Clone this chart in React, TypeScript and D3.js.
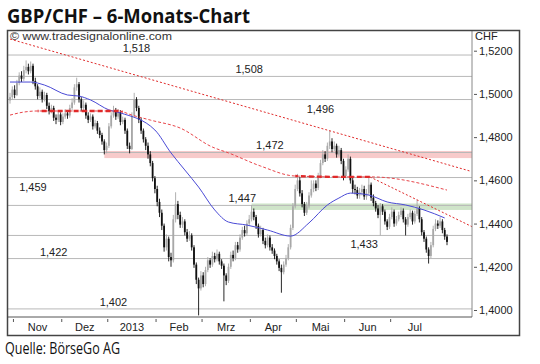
import { useEffect, useRef } from "react";
import * as d3 from "d3";

const FONT = "'Liberation Sans', Arial, sans-serif";
const PLOT = { left: 8, right: 472, top: 30, bottom: 317 };

// daily GBP/CHF closes (open = previous close)
const firstOpen = 1.497;
const closes = [
  1.4985, 1.502, 1.4995, 1.505, 1.5085, 1.507, 1.511, 1.5125, 1.5105, 1.513,
  1.506, 1.5035, 1.499, 1.501, 1.4975, 1.4995, 1.4945, 1.492, 1.4935, 1.489,
  1.488, 1.4905, 1.487, 1.4895, 1.491, 1.49, 1.4935, 1.496, 1.503, 1.5045,
  1.4975, 1.4935, 1.495, 1.49, 1.488, 1.4895, 1.485, 1.4865, 1.483, 1.481,
  1.478, 1.474, 1.476, 1.485, 1.49, 1.4925, 1.4895, 1.4915, 1.487, 1.488,
  1.483, 1.476, 1.4745, 1.49, 1.4975, 1.4935, 1.488, 1.483, 1.479, 1.476,
  1.472, 1.468, 1.461, 1.456, 1.45, 1.445, 1.439, 1.429, 1.433, 1.4245,
  1.423, 1.442, 1.449, 1.444, 1.4395, 1.441, 1.436, 1.433, 1.4345, 1.429,
  1.421, 1.414, 1.41, 1.416, 1.412, 1.4185, 1.423, 1.421, 1.425, 1.4235,
  1.426, 1.4225, 1.4205, 1.416, 1.4135, 1.42, 1.4255, 1.424, 1.43, 1.428,
  1.4335, 1.437, 1.4355, 1.44, 1.442, 1.4455, 1.443, 1.439, 1.435, 1.437,
  1.432, 1.43, 1.4335, 1.429, 1.4275, 1.425, 1.4225, 1.4195, 1.4175, 1.421,
  1.424, 1.429, 1.438, 1.448, 1.456, 1.46, 1.454, 1.449, 1.445, 1.448,
  1.453, 1.456, 1.4585, 1.4565, 1.462, 1.468, 1.472, 1.47, 1.476, 1.478,
  1.4745, 1.476, 1.472, 1.474, 1.469, 1.462, 1.465, 1.47, 1.46, 1.456,
  1.4555, 1.453, 1.4545, 1.456, 1.4525, 1.454, 1.458, 1.452, 1.4495, 1.447,
  1.444, 1.448, 1.4455, 1.441, 1.4385, 1.443, 1.4455, 1.44, 1.442, 1.444,
  1.446, 1.442, 1.4395, 1.443, 1.445, 1.441, 1.4445, 1.447, 1.442, 1.436,
  1.433, 1.428, 1.425, 1.43, 1.4375, 1.44, 1.439, 1.441, 1.437, 1.434,
  1.4315,
];
const highs = [
  1.5005, 1.5035, 1.504, 1.5065, 1.51, 1.5105, 1.513, 1.5155, 1.514, 1.515,
  1.514, 1.5075, 1.5045, 1.503, 1.502, 1.501, 1.5005, 1.496, 1.495, 1.4945,
  1.4905, 1.492, 1.4915, 1.491, 1.493, 1.4925, 1.495, 1.498, 1.5045, 1.5075,
  1.5055, 1.4985, 1.497, 1.496, 1.4915, 1.491, 1.4905, 1.488, 1.4875, 1.4845,
  1.482, 1.479, 1.4775, 1.4865, 1.4915, 1.4945, 1.4935, 1.493, 1.4925, 1.4895,
  1.489, 1.484, 1.4775, 1.4915, 1.5005, 1.4985, 1.4945, 1.489, 1.484, 1.48,
  1.4775, 1.4735, 1.469, 1.462, 1.4575, 1.4515, 1.4465, 1.44, 1.435, 1.434,
  1.4265, 1.444, 1.4545, 1.4505, 1.4455, 1.443, 1.442, 1.4375, 1.4365, 1.4355,
  1.43, 1.422, 1.415, 1.418, 1.4175, 1.42, 1.4245, 1.424, 1.427, 1.4265,
  1.428, 1.427, 1.4235, 1.4215, 1.417, 1.4215, 1.427, 1.4275, 1.4315, 1.4315,
  1.435, 1.4385, 1.439, 1.4415, 1.444, 1.4485, 1.447, 1.444, 1.44, 1.439,
  1.438, 1.4335, 1.435, 1.4345, 1.4305, 1.4285, 1.426, 1.4235, 1.421, 1.4225,
  1.4255, 1.4305, 1.4395, 1.4495, 1.458, 1.463, 1.4615, 1.4555, 1.45, 1.45,
  1.4545, 1.46, 1.46, 1.46, 1.4635, 1.4695, 1.474, 1.4735, 1.4775, 1.483,
  1.4795, 1.478, 1.477, 1.476, 1.475, 1.47, 1.4665, 1.472, 1.471, 1.4615,
  1.458, 1.457, 1.4565, 1.458, 1.4575, 1.456, 1.4615, 1.459, 1.4535, 1.4505,
  1.4485, 1.4495, 1.449, 1.4465, 1.442, 1.4445, 1.4475, 1.4465, 1.4435, 1.4455,
  1.4475, 1.447, 1.443, 1.4445, 1.4465, 1.446, 1.446, 1.451, 1.448, 1.443,
  1.437, 1.434, 1.429, 1.4315, 1.439, 1.442, 1.4415, 1.443, 1.442, 1.438,
  1.435,
];
const lows = [
  1.4955, 1.4975, 1.498, 1.499, 1.504, 1.5055, 1.506, 1.5095, 1.509, 1.5095,
  1.5045, 1.502, 1.4975, 1.498, 1.496, 1.4965, 1.493, 1.4905, 1.491, 1.4875,
  1.486, 1.487, 1.4855, 1.486, 1.4885, 1.4885, 1.489, 1.4925, 1.495, 1.5015,
  1.496, 1.492, 1.492, 1.4885, 1.4865, 1.487, 1.4835, 1.484, 1.4815, 1.4795,
  1.4765, 1.472, 1.4725, 1.475, 1.484, 1.489, 1.488, 1.4885, 1.4855, 1.486,
  1.4815, 1.4745, 1.4725, 1.474, 1.489, 1.492, 1.4865, 1.4815, 1.4775, 1.474,
  1.47, 1.4665, 1.4595, 1.454, 1.448, 1.443, 1.437, 1.427, 1.4275, 1.4225,
  1.42, 1.422, 1.4405, 1.442, 1.438, 1.438, 1.4345, 1.4315, 1.432, 1.4275,
  1.4195, 1.412, 1.3975, 1.409, 1.4105, 1.411, 1.4175, 1.4195, 1.42, 1.422,
  1.4225, 1.421, 1.419, 1.404, 1.4115, 1.4125, 1.419, 1.4225, 1.423, 1.4265,
  1.427, 1.4325, 1.434, 1.4345, 1.439, 1.441, 1.4415, 1.4375, 1.4335, 1.434,
  1.4305, 1.4285, 1.429, 1.4275, 1.426, 1.4235, 1.421, 1.418, 1.408, 1.4165,
  1.42, 1.423, 1.428, 1.437, 1.447, 1.455, 1.4525, 1.4475, 1.4435, 1.444,
  1.447, 1.452, 1.4545, 1.455, 1.4555, 1.461, 1.467, 1.4685, 1.469, 1.4745,
  1.473, 1.4735, 1.4705, 1.471, 1.4675, 1.46, 1.461, 1.464, 1.4585, 1.454,
  1.4535, 1.4515, 1.4515, 1.453, 1.451, 1.451, 1.453, 1.4505, 1.448, 1.4455,
  1.4425, 1.4345, 1.444, 1.4395, 1.437, 1.4375, 1.442, 1.4385, 1.439, 1.441,
  1.443, 1.4405, 1.4345, 1.4385, 1.442, 1.4395, 1.44, 1.4435, 1.4405, 1.4345,
  1.4315, 1.4265, 1.4215, 1.424, 1.429, 1.4365, 1.4375, 1.438, 1.4355, 1.4325,
  1.43,
];

const monthLabels = ["Nov", "Dez", "2013", "Feb", "Mrz", "Apr", "Mai", "Jun", "Jul"];
const monthStarts = [2, 23, 43, 64, 84, 105, 125, 146, 166, 187];
const yTicks = [1.4, 1.42, 1.44, 1.46, 1.48, 1.5, 1.52];

// horizontal support / resistance levels
const levelValues = [1.518, 1.5081, 1.4974, 1.4729, 1.4613, 1.4484, 1.4345, 1.4238, 1.4005];
const levelLabels = ["1,518", "1,508", "1,496", "1,472", "1,459", "1,447", "1,433", "1,422", "1,402"];
const levelLabelAt = [49, 98, 129, 107, 4, 95, 148, 13, 39];
const levelLabelBelow = [false, false, true, false, true, false, true, false, false];

const pinkZone = { from: 41, top: 1.4736, bottom: 1.4703 };
const greenZone = { from: 105, top: 1.4493, bottom: 1.4463 };

// moving averages (bar index / value)
const blueIdx = [0, 9, 15, 25, 30, 35, 43, 48, 63, 70, 76, 82, 89, 95, 103, 112, 122, 130, 138, 143, 148, 156, 164, 172, 180, 189];
const blueVal = [1.5055, 1.5055, 1.5041, 1.4995, 1.499, 1.4972, 1.4926, 1.4912, 1.4833, 1.4727, 1.4648, 1.4569, 1.4463, 1.4407, 1.4393, 1.437, 1.4342, 1.4403, 1.4486, 1.4518, 1.4541, 1.4532, 1.45, 1.4486, 1.4463, 1.4426];
const redIdx = [0, 6, 12, 47, 53, 61, 74, 88, 95, 109, 124, 144, 157, 190];
const redVal = [1.4902, 1.4916, 1.4921, 1.4921, 1.4902, 1.4879, 1.4842, 1.4754, 1.4727, 1.4666, 1.462, 1.4616, 1.4616, 1.4555];
const redBold = [[12, 49], [124, 157]];

// trend lines
const trendTop = [[0, 1.5254], [200, 1.4643]];
const trendLow = [[156.5, 1.4616], [201, 1.4385]];

export default function App() {
  const axisRef = useRef<SVGGElement>(null);
  const x = d3.scaleLinear().domain([0, closes.length - 1]).range([10, 447]);
  const y = d3.scaleLinear().domain([1.4, 1.52]).range([310, 50.7]);
  const opens = closes.map((c, i) => (i === 0 ? firstOpen : closes[i - 1]));

  useEffect(() => {
    const g = d3.select(axisRef.current);
    g.selectAll("*").remove();
    g.call(
      d3
        .axisRight(y)
        .tickValues(yTicks)
        .tickSize(3)
        .tickPadding(2)
        .tickFormat((d: any) => d3.format(".4f")(d).replace(".", ","))
    );
    g.select(".domain").remove();
    g.selectAll("text").attr("fill", "#222").style("font-size", "11px").style("font-family", FONT);
    g.selectAll("line").attr("stroke", "#555");
  }, []);

  const line = d3
    .line<number[]>()
    .x((d) => x(d[0]))
    .y((d) => y(d[1]))
    .curve(d3.curveMonotoneX);
  const straight = d3
    .line<number[]>()
    .x((d) => x(d[0]))
    .y((d) => y(d[1]));
  const redPts = redIdx.map((d, i) => [d, redVal[i]]);
  const bluePts = blueIdx.map((d, i) => [d, blueVal[i]]);
  const redPath = line(redPts) || "";

  return (
    <svg
      width={540}
      height={364}
      style={{ position: "absolute", left: 0, top: 0, background: "#fff" }}
      fontFamily={FONT}
    >
      <defs>
        <clipPath id="plot">
          <rect x={PLOT.left} y={PLOT.top} width={PLOT.right - PLOT.left} height={PLOT.bottom - PLOT.top} />
        </clipPath>
        <clipPath id="bold1">
          <rect x={x(redBold[0][0])} y={PLOT.top} width={x(redBold[0][1]) - x(redBold[0][0])} height={300} />
        </clipPath>
        <clipPath id="bold2">
          <rect x={x(redBold[1][0])} y={PLOT.top} width={x(redBold[1][1]) - x(redBold[1][0])} height={300} />
        </clipPath>
      </defs>

      <text x={7} y={23} fontSize={20} fontWeight={700} fontFamily="'Open Sans', sans-serif" fill="#111" textLength={243} lengthAdjust="spacingAndGlyphs">
        GBP/CHF – 6-Monats-Chart
      </text>

      <g clipPath="url(#plot)">
        <rect
          x={x(pinkZone.from)}
          y={y(pinkZone.top)}
          width={PLOT.right - x(pinkZone.from)}
          height={y(pinkZone.bottom) - y(pinkZone.top)}
          fill="#f7caca"
        />
        <rect
          x={x(greenZone.from)}
          y={y(greenZone.top)}
          width={PLOT.right - x(greenZone.from)}
          height={y(greenZone.bottom) - y(greenZone.top)}
          fill="#cfe4c9"
        />
        {levelValues.map((v, i) => (
          <line key={i} x1={PLOT.left} x2={PLOT.right} y1={y(v)} y2={y(v)} stroke="#b8b8b8" strokeWidth={1} />
        ))}

        {closes.map((c, i) => {
          const o = opens[i];
          const up = c >= o;
          const col = up ? "#a8a8a8" : "#111";
          const xc = x(i);
          const top = y(Math.max(o, c));
          const bot = y(Math.min(o, c));
          return (
            <g key={i}>
              <line x1={xc} x2={xc} y1={y(highs[i])} y2={y(lows[i])} stroke={col} strokeWidth={0.9} />
              <rect x={xc - 0.9} width={1.8} y={top} height={Math.max(1, bot - top)} fill={col} />
            </g>
          );
        })}

        <path d={line(bluePts) || ""} fill="none" stroke="#4a4ad6" strokeWidth={1} />
        <path d={redPath} fill="none" stroke="#e8454a" strokeWidth={1} strokeDasharray="3,2" />
        <path d={redPath} fill="none" stroke="#e02a2a" strokeWidth={2.4} strokeDasharray="5,3" clipPath="url(#bold1)" />
        <path d={redPath} fill="none" stroke="#e02a2a" strokeWidth={2.4} strokeDasharray="5,3" clipPath="url(#bold2)" />
        <path d={straight(trendTop) || ""} fill="none" stroke="#e02a2a" strokeWidth={1} strokeDasharray="2,2" />
        <path d={straight(trendLow) || ""} fill="none" stroke="#e02a2a" strokeWidth={1} strokeDasharray="2,2" />

        {levelLabels.map((t, i) => (
          <text
            key={t}
            x={x(levelLabelAt[i])}
            y={y(levelValues[i]) + (levelLabelBelow[i] ? 13 : -3)}
            fontSize={11}
            fill="#222"
          >
            {t}
          </text>
        ))}
      </g>

      <text x={10} y={40} fontSize={11} fill="#333" textLength={162} lengthAdjust="spacingAndGlyphs">
        © www.tradesignalonline.com
      </text>

      <line x1={PLOT.right} x2={PLOT.right} y1={PLOT.top} y2={PLOT.bottom} stroke="#888" />
      <line x1={PLOT.left} x2={PLOT.right} y1={PLOT.bottom} y2={PLOT.bottom} stroke="#555" />
      <rect x={7.5} y={30.5} width={512} height={305} fill="none" stroke="#444" strokeWidth={1.5} />

      <g ref={axisRef} transform={`translate(${PLOT.right + 2},0)`} />
      <text x={475} y={40} fontSize={11} fill="#222">CHF</text>

      {monthStarts.slice(0, -1).map((s, i) => {
        const x0 = x(s - 0.5);
        const x1 = x(monthStarts[i + 1] - 0.5);
        return (
          <g key={s}>
            <line x1={x0} x2={x0} y1={PLOT.bottom + 2} y2={PLOT.bottom + 5} stroke="#555" />
            <text x={(x0 + x1) / 2} y={331} fontSize={11} textAnchor="middle" fill="#222">
              {monthLabels[i]}
            </text>
          </g>
        );
      })}

      <text x={5} y={354} fontSize={16} fontFamily="'Open Sans', sans-serif" fill="#111" textLength={115} lengthAdjust="spacingAndGlyphs">
        Quelle: BörseGo AG
      </text>
    </svg>
  );
}
